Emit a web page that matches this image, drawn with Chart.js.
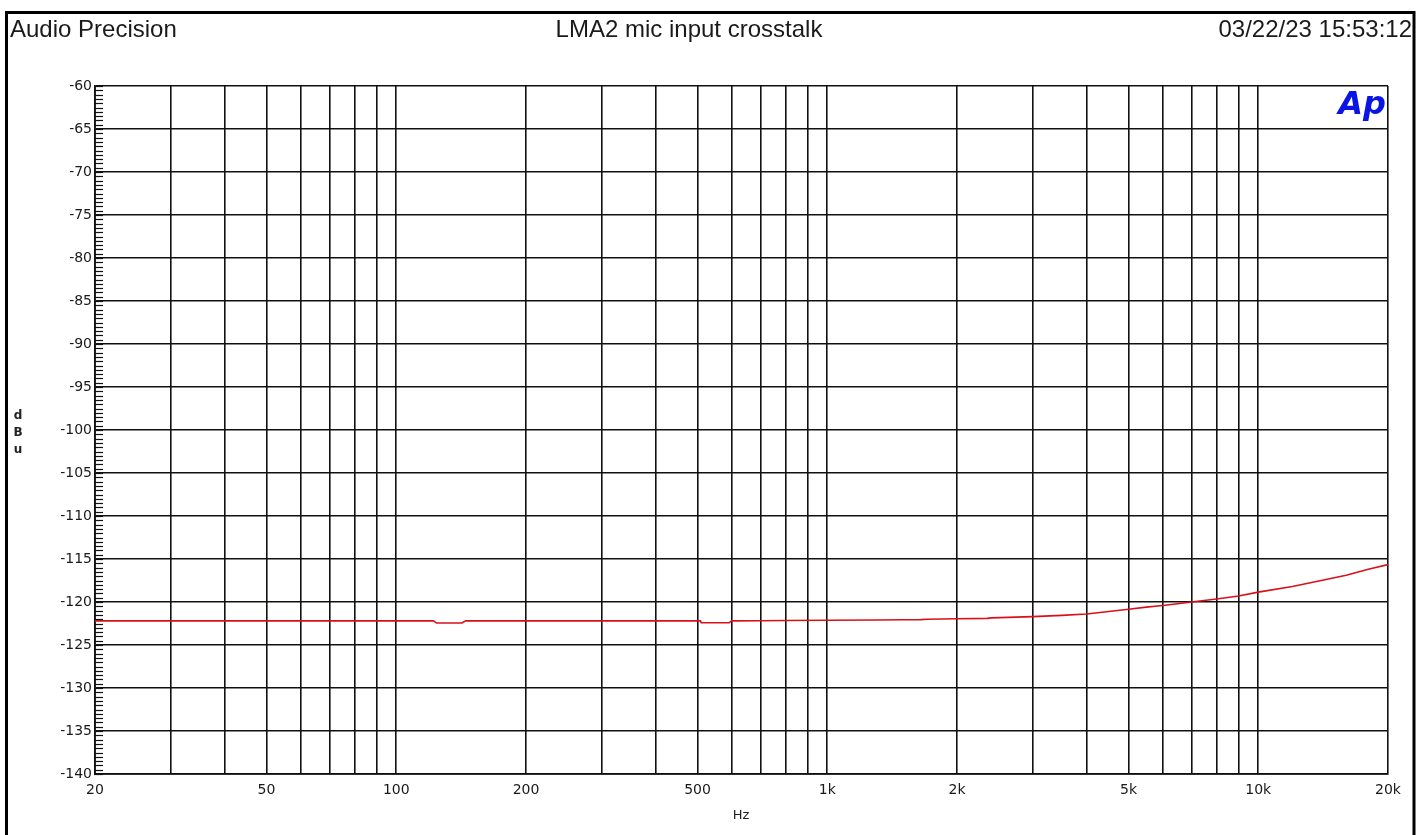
<!DOCTYPE html>
<html>
<head>
<meta charset="utf-8">
<script src="https://cdn.jsdelivr.net/npm/chart.js@4.4.1/dist/chart.umd.min.js"></script>
<style>
html,body{margin:0;padding:0;background:#fff;}
canvas{display:block;}
</style>
</head>
<body>
<canvas id="c" width="1425" height="835"></canvas>
<script>
// ---- data ----
const freqs = [20, 30, 50, 80, 100, 122, 124, 130, 140, 142, 145, 200, 300, 400, 500, 508, 510, 550, 590, 592, 600, 700, 800, 1000, 1300, 1500, 1650, 1700, 2000, 2350, 2400, 3000, 3500, 4000, 4500, 5000, 5500, 6000, 6500, 7000, 8000, 9000, 10000, 12000, 14000, 16000, 18000, 20000];
const crosstalkDbu = [-122.2, -122.2, -122.2, -122.2, -122.2, -122.2, -122.45, -122.45, -122.45, -122.45, -122.2, -122.2, -122.2, -122.2, -122.2, -122.2, -122.42, -122.42, -122.42, -122.42, -122.2, -122.18, -122.15, -122.12, -122.1, -122.07, -122.05, -122.0, -121.95, -121.9, -121.85, -121.7, -121.55, -121.4, -121.1, -120.85, -120.6, -120.4, -120.2, -120.0, -119.65, -119.3, -118.85, -118.2, -117.5, -116.9, -116.2, -115.65];
const xGridValues = [20,30,40,50,60,70,80,90,100,200,300,400,500,600,700,800,900,1000,2000,3000,4000,5000,6000,7000,8000,9000,10000,20000];
const xTickLabels = {20:'20',50:'50',100:'100',200:'200',500:'500',1000:'1k',2000:'2k',5000:'5k',10000:'10k',20000:'20k'};
const yMin = -140, yMax = -60, yStep = 5, yMinorStep = 0.5;
const titleLeft = 'Audio Precision';
const titleCenter = 'LMA2 mic input crosstalk';
const titleRight = '03/22/23 15:53:12';
const yAxisTitle = ['d','B','u'];
const xAxisTitle = 'Hz';

const points = freqs.map((f,i)=>({x:f, y:crosstalkDbu[i]}));

const decor = {
  id:'decor',
  beforeDraw(chart){
    const ctx = chart.ctx;
    ctx.save();
    ctx.fillStyle = '#fff';
    ctx.fillRect(0,0,chart.width,chart.height);
    ctx.restore();
  },
  afterDraw(chart){
    const ctx = chart.ctx;
    const ys = chart.scales.y;
    const area = chart.chartArea;
    ctx.save();
    // minor ticks on y axis
    ctx.strokeStyle = '#111';
    ctx.lineWidth = 1.2;
    for (let v = yMin; v <= yMax + 1e-9; v += yMinorStep) {
      const py = Math.round(ys.getPixelForValue(v)) + 0.5;
      ctx.beginPath();
      ctx.moveTo(area.left - 1, py);
      ctx.lineTo(area.left + 8, py);
      ctx.stroke();
    }
    // outer frame
    ctx.strokeStyle = '#000';
    ctx.lineWidth = 3;
    ctx.strokeRect(6.5, 12.5, 1407.5, 840);
    // titles
    ctx.fillStyle = '#1a1a1a';
    ctx.font = '24px "Liberation Sans", Arial, sans-serif';
    ctx.textBaseline = 'alphabetic';
    ctx.textAlign = 'left';
    ctx.fillText(titleLeft, 10, 37);
    ctx.textAlign = 'center';
    ctx.fillText(titleCenter, 689, 37);
    ctx.textAlign = 'right';
    ctx.fillText(titleRight, 1412, 37);
    // y axis title
    ctx.font = 'bold 12px "DejaVu Sans", sans-serif';
    ctx.textAlign = 'center';
    ctx.textBaseline = 'middle';
    ctx.fillStyle = '#222';
    yAxisTitle.forEach((t,i)=>ctx.fillText(t, 18, 416 + i*17));
    // x axis title
    ctx.font = '13px "DejaVu Sans", sans-serif';
    ctx.fillText(xAxisTitle, 741, 816);
    // Ap logo
    ctx.fillStyle = '#0a14e6';
    ctx.font = 'italic bold 32px "DejaVu Sans", sans-serif';
    ctx.textAlign = 'right';
    ctx.textBaseline = 'alphabetic';
    ctx.fillText('Ap', 1386, 114);
    ctx.restore();
  }
};

new Chart(document.getElementById('c'), {
  type: 'line',
  data: {
    datasets: [{
      data: points,
      borderColor: '#d8101c',
      borderWidth: 1.6,
      pointRadius: 0,
      tension: 0,
      fill: false
    }]
  },
  options: {
    responsive: false,
    devicePixelRatio: 1,
    animation: false,
    events: [],
    layout: { padding: { left: 0, right: 37, top: 86, bottom: 0 } },
    plugins: { legend: { display: false }, tooltip: { enabled: false }, title: { display: false } },
    scales: {
      x: {
        type: 'logarithmic',
        min: 20, max: 20000,
        offset: false,
        afterFit(s){ s.height = 61; },
        afterBuildTicks(s){ s.ticks = xGridValues.map(v=>({value:v})); },
        grid: { color: '#111', lineWidth: 1.6, drawTicks: false },
        border: { display: true, color: '#111', width: 1.8 },
        ticks: {
          autoSkip: false, maxRotation: 0, minRotation: 0, padding: 8,
          color: '#1a1a1a',
          font: { family: '"DejaVu Sans", sans-serif', size: 14 },
          callback(v){ return xTickLabels[v] !== undefined ? xTickLabels[v] : ''; }
        }
      },
      y: {
        type: 'linear',
        min: yMin, max: yMax,
        afterFit(s){ s.width = 95; },
        grid: { color: '#111', lineWidth: 1.6, drawTicks: false },
        border: { display: true, color: '#111', width: 1.8 },
        ticks: {
          stepSize: yStep, padding: 3,
          color: '#1a1a1a',
          font: { family: '"DejaVu Sans", sans-serif', size: 14 },
          callback(v){ return String(v); }
        }
      }
    }
  },
  plugins: [decor]
});
</script>
</body>
</html>
